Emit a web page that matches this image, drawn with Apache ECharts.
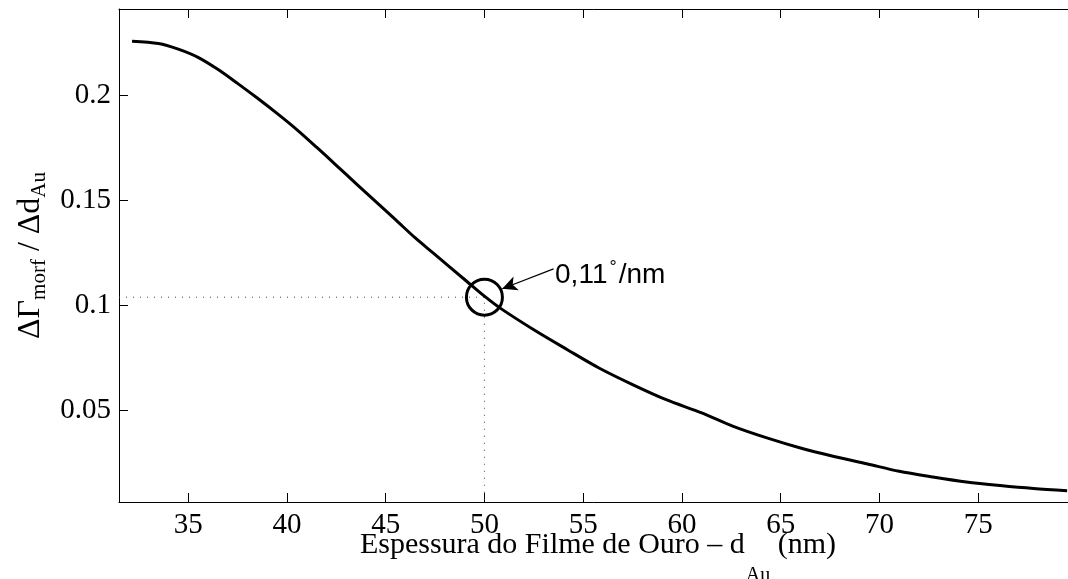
<!DOCTYPE html>
<html><head><meta charset="utf-8">
<script src="https://cdn.jsdelivr.net/npm/echarts@6/dist/echarts.min.js"></script>
<style>html,body{margin:0;padding:0;background:#fff}#c{width:1068px;height:579px}</style>
</head><body><div id="c"></div>
<script>
// Gold film thickness (nm) and sensitivity values
const thickness = [32.16, 33.5, 34.5, 35.5, 36.5, 37.5, 38.5, 39.5, 40.5, 41.5, 42.5, 43.5, 44.5, 45.5, 46.5, 47.4, 49.1, 50.0, 50.8, 52.5, 54.2, 55.8, 57.5, 59.2, 61.0, 62.6, 64.3, 66.0, 67.7, 69.4, 71.0, 72.7, 74.4, 76.1, 77.8, 79.5];
const slope =     [0.2259, 0.2248, 0.2221, 0.2182, 0.2125, 0.2058, 0.1988, 0.1915, 0.1838, 0.1754, 0.1668, 0.1581, 0.1495, 0.1409, 0.1322, 0.1251, 0.1116, 0.1045, 0.0988, 0.0885, 0.0790, 0.0703, 0.0624, 0.0552, 0.0489, 0.0425, 0.0370, 0.0322, 0.0282, 0.0246, 0.0211, 0.0184, 0.0160, 0.0143, 0.0129, 0.0119];
const xTicks = [35, 40, 45, 50, 55, 60, 65, 70, 75, 80];
const xTickLabels = [35, 40, 45, 50, 55, 60, 65, 70, 75];
const yTicks = [0.05, 0.1, 0.15, 0.2];
const xRange = [31.5, 80];
const yRange = [0.0065, 0.2412];
const highlightX = 50, highlightY = 0.104;
const arrowFrom = [53.5, 0.1175], arrowTo = [50.9, 0.108];
const labelAt = [53.55, 0.115];

const serif = 'Liberation Serif';
const sans = 'Liberation Sans';
const chart = echarts.init(document.getElementById('c'), null, {renderer: 'canvas'});

const axisCommon = {
  type: 'value',
  axisLine: {show: true, lineStyle: {color: '#000', width: 1}},
  splitLine: {show: false}
};

chart.setOption({
  animation: false,
  backgroundColor: '#fff',
  grid: {left: 119, top: 9, width: 958, height: 493, containLabel: false, outerBoundsMode: 'none'},
  xAxis: [
    Object.assign({}, axisCommon, {
      position: 'bottom', min: xRange[0], max: xRange[1],
      axisTick: {show: true, inside: true, length: 9, customValues: xTicks, lineStyle: {color: '#000'}},
      axisLabel: {customValues: xTickLabels, color: '#000', fontFamily: serif, fontSize: 29, margin: 9},
      name: '{m|Espessura do Filme de Ouro – d}{s|Au}{m| (nm)}',
      nameLocation: 'middle', nameGap: 28, nameMoveOverlap: false,
      nameTextStyle: {
        color: '#000', fontFamily: serif, fontSize: 30, verticalAlign: 'top',
        rich: {
          m: {fontFamily: serif, fontSize: 30, lineHeight: 30, color: '#000', verticalAlign: 'top'},
          s: {fontFamily: serif, fontSize: 20, lineHeight: 20, color: '#000', verticalAlign: 'top', padding: [36, 0, 0, 1]}
        }
      }
    }),
    Object.assign({}, axisCommon, {
      position: 'top', min: xRange[0], max: xRange[1],
      axisTick: {show: true, inside: true, length: 9, customValues: xTicks, lineStyle: {color: '#000'}},
      axisLabel: {show: false}
    })
  ],
  yAxis: [
    Object.assign({}, axisCommon, {
      position: 'left', min: yRange[0], max: yRange[1],
      axisTick: {show: true, inside: true, length: 9, customValues: yTicks, lineStyle: {color: '#000'}},
      axisLabel: {customValues: yTicks, color: '#000', fontFamily: serif, fontSize: 29, margin: 8,
        formatter: v => String(+v.toFixed(4))},
      name: '{m|ΔΓ}{s|morf}{m| / Δd}{s|Au}',
      nameLocation: 'middle', nameGap: 69, nameRotate: 90, nameMoveOverlap: false,
      nameTextStyle: {
        color: '#000', fontFamily: serif, fontSize: 30,
        rich: {
          m: {fontFamily: serif, fontSize: 32, lineHeight: 32, color: '#000', verticalAlign: 'bottom', padding: [0, 0, 3, 0]},
          s: {fontFamily: serif, fontSize: 21, lineHeight: 21, color: '#000', verticalAlign: 'bottom'}
        }
      }
    }),
    Object.assign({}, axisCommon, {
      position: 'right', min: yRange[0], max: yRange[1],
      axisTick: {show: true, inside: true, length: 9, customValues: yTicks, lineStyle: {color: '#000'}},
      axisLabel: {show: false}
    })
  ],
  series: [
    {
      type: 'line', xAxisIndex: 0, yAxisIndex: 0, z: 3,
      data: thickness.map((t, i) => [t, slope[i]]),
      showSymbol: false, smooth: 0.3,
      lineStyle: {color: '#000', width: 3}
    },
    {
      type: 'line', xAxisIndex: 0, yAxisIndex: 0, z: 2,
      data: [[xRange[0], highlightY], [highlightX, highlightY], [highlightX, yRange[0]]],
      showSymbol: false, symbol: 'none',
      lineStyle: {color: '#444', width: 1, type: [1, 6]}
    },
    {
      type: 'scatter', xAxisIndex: 0, yAxisIndex: 0, z: 4,
      data: [[highlightX, highlightY]],
      symbol: 'circle', symbolSize: 36,
      itemStyle: {color: 'rgba(0,0,0,0)', borderColor: '#000', borderWidth: 3, opacity: 1},
      markLine: {
        silent: true, symbol: ['none', 'arrow'], symbolSize: [11, 15],
        label: {show: false},
        lineStyle: {color: '#000', width: 1.2, type: 'solid', opacity: 1},
        itemStyle: {color: '#000'},
        data: [[{coord: arrowFrom}, {coord: arrowTo}]]
      }
    },
    {
      type: 'scatter', xAxisIndex: 0, yAxisIndex: 0, z: 5,
      data: [labelAt], symbolSize: 1,
      itemStyle: {color: 'rgba(0,0,0,0)', opacity: 1},
      label: {
        show: true, position: 'right', distance: 0, color: '#000',
        formatter: '{a|0,11}{d|°}{a|/nm}',
        rich: {
          a: {fontFamily: sans, fontSize: 28, color: '#000', verticalAlign: 'bottom', lineHeight: 30},
          d: {fontFamily: sans, fontSize: 18, color: '#000', verticalAlign: 'top', lineHeight: 18, padding: [0, 2, 0, 2]}
        }
      }
    }
  ]
});
</script>
</body></html>
